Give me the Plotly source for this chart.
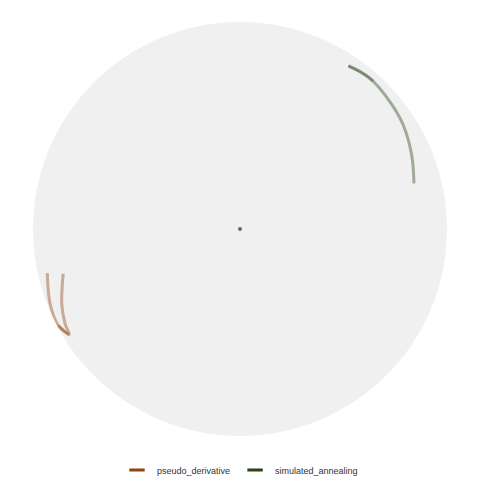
import plotly.graph_objects as go

# Data (theta in degrees, r normalised to outer radius = 1)
pd_theta = [192.9, 201.5, 208.0, 211.7, 208.4, 202.8, 194.2]
pd_r = [0.955, 0.986, 0.994, 0.970, 0.961, 0.934, 0.881]

sa_theta = [14.7, 23.3, 32.5, 40.3, 49.2, 56.4]
sa_r = [0.869, 0.903, 0.935, 0.950, 0.961, 0.946]
sa_retrace_theta = [56.4, 52.0, 48.0]
sa_retrace_r = [0.946, 0.958, 0.962]

center_theta = [0]
center_r = [0]

series_names = ["pseudo_derivative", "simulated_annealing"]
series_colors = ["#8b4513", "#284414"]

fig = go.Figure()

line_style = lambda c: dict(color=c, width=3, shape="spline", smoothing=1.0)

# pseudo_derivative: split into two legs so the overlap near the vertex darkens
fig.add_trace(go.Scatterpolar(theta=pd_theta[:4], r=pd_r[:4], mode="lines",
                              line=line_style(series_colors[0]), opacity=0.4,
                              showlegend=False, hoverinfo="skip"))
fig.add_trace(go.Scatterpolar(theta=pd_theta[2:], r=pd_r[2:], mode="lines",
                              line=line_style(series_colors[0]), opacity=0.4,
                              showlegend=False, hoverinfo="skip"))
# simulated_annealing
fig.add_trace(go.Scatterpolar(theta=sa_theta, r=sa_r, mode="lines",
                              line=line_style(series_colors[1]), opacity=0.4,
                              showlegend=False, hoverinfo="skip"))
fig.add_trace(go.Scatterpolar(theta=sa_retrace_theta, r=sa_retrace_r, mode="lines",
                              line=line_style(series_colors[1]), opacity=0.3,
                              showlegend=False, hoverinfo="skip"))
# centre dot
fig.add_trace(go.Scatterpolar(theta=center_theta, r=center_r, mode="markers",
                              marker=dict(color="#666666", size=4), showlegend=False,
                              hoverinfo="skip"))

# legend-only entries
for name, col in zip(series_names, series_colors):
    fig.add_trace(go.Scatterpolar(theta=[None], r=[None], mode="markers", name=name,
                                  marker=dict(symbol="line-ew-open", size=11, color=col,
                                              line=dict(color=col, width=3))))

fig.update_layout(
    width=480, height=480,
    margin=dict(l=33, r=33, t=22, b=44, autoexpand=False),
    paper_bgcolor="white",
    font=dict(family="Liberation Sans, Arial, sans-serif", size=9, color="#333333"),
    polar=dict(
        bgcolor="#f0f0f0",
        domain=dict(x=[0, 1], y=[0, 1]),
        radialaxis=dict(range=[0, 1], visible=False, showgrid=False),
        angularaxis=dict(visible=False, showgrid=False, showline=False,
                         direction="counterclockwise", rotation=0),
    ),
    legend=dict(orientation="h", x=0.5, xanchor="center", xref="container",
                y=(480 - 470) / 480, yanchor="middle", yref="container",
                font=dict(size=9, color="#333333"), bgcolor="rgba(0,0,0,0)"),
    showlegend=True,
)

fig.write_html("out.html")
